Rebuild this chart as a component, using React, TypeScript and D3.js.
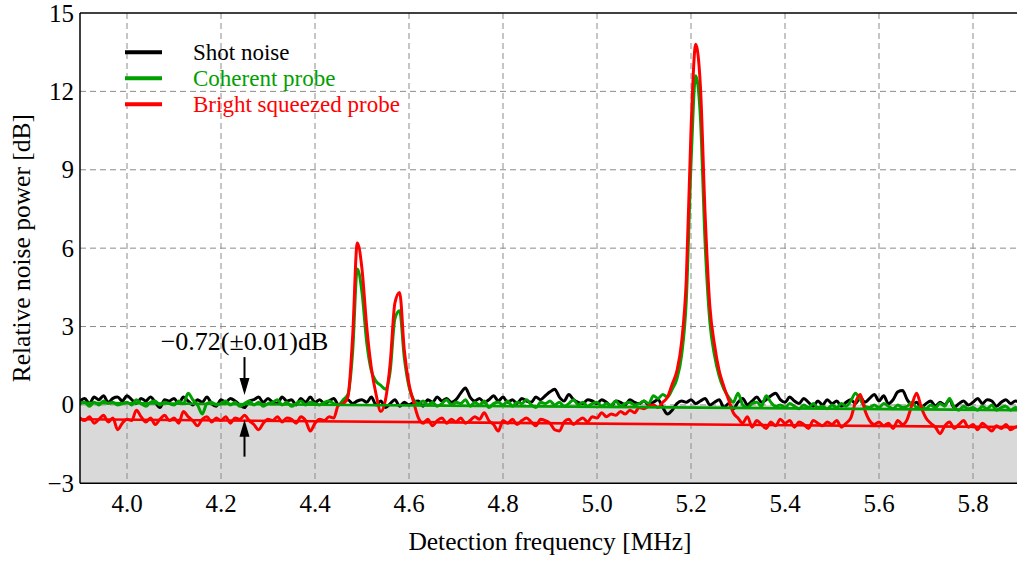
import React from "react";
import * as d3 from "d3";

// Frequency grid (MHz), 0.01 MHz steps from 3.90 to 5.90
const FREQ: number[] = d3.range(201).map((i) => +(3.9 + i * 0.01).toFixed(2));

const X_TICKS = [4.0, 4.2, 4.4, 4.6, 4.8, 5.0, 5.2, 5.4, 5.6, 5.8];
const Y_TICKS = [-3, 0, 3, 6, 9, 12, 15];

// Shot noise (black)
const SHOT = [
  0.15, 0.25, 0.05, 0.3, 0.2, 0.35, 0.1, 0.25, 0.3, 0.15,
  0.35, 0.2, 0.05, 0.25, 0.15, 0.3, 0.1, -0.1, 0.2, 0.15,
  0.25, 0.05, 0.3, 0.15, 0.0, 0.2, 0.1, 0.3, 0.05, -0.05,
  0.2, 0.1, 0.25, 0.15, 0.0, -0.1, 0.15, 0.2, 0.3, 0.1,
  0.25, 0.1, 0.05, 0.3, 0.15, 0.2, 0.0, 0.25, 0.1, 0.3,
  0.1, 0.2, 0.05, 0.15, 0.25, 0.0, 0.1, 0.2, 0.05, 0.15,
  0.2, 0.1, 0.3, 0.0, 0.15, -0.1, 0.05, 0.2, -0.05, 0.1,
  0.0, 0.1, 0.15, -0.05, 0.2, 0.1, 0.3, 0.15, 0.25, 0.1,
  0.2, 0.45, 0.65, 0.3, 0.15, 0.25, 0.1, 0.2, 0.35, 0.15,
  0.3, 0.1, 0.2, 0.05, 0.25, 0.15, 0.1, 0.3, 0.2, 0.35,
  0.5, 0.6, 0.3, 0.15, 0.4, 0.2, 0.1, 0.05, 0.2, 0.15,
  0.05, 0.2, 0.1, -0.05, 0.15, 0.1, 0.0, 0.2, 0.1, 0.05,
  0.15, 0.0, 0.1, 0.2, -0.1, -0.35, -0.2, 0.05, 0.15, 0.1,
  0.2, 0.05, 0.15, 0.25, 0.0, 0.1, 0.2, -0.1, 0.05, -0.15,
  0.1, 0.25, 0.0, 0.15, 0.3, 0.1, 0.2, 0.35, 0.45, 0.2,
  0.1, 0.3, 0.15, 0.05, 0.25, 0.1, -0.05, 0.15, 0.0, 0.2,
  0.05, 0.15, -0.05, 0.1, 0.2, 0.05, 0.3, 0.1, 0.25, 0.4,
  0.15, 0.35, 0.05, 0.2, 0.5, 0.55, 0.2, 0.0, 0.1, -0.1,
  0.05, 0.15, -0.05, 0.1, 0.0, 0.2, -0.1, 0.05, 0.15, 0.0,
  0.1, 0.25, 0.05, 0.2, 0.15, -0.05, 0.1, 0.2, 0.05, 0.15,
  0.1,
];

// Coherent probe (green)
const COHERENT = [
  0.05, 0.1, -0.05, 0.1, 0.0, 0.15, 0.05, 0.1, 0.0, 0.05,
  0.1, 0.0, 0.2, 0.05, -0.05, 0.1, 0.15, 0.0, 0.1, 0.05,
  0.0, 0.15, 0.05, 0.45, 0.2, 0.0, -0.35, 0.05, 0.1, 0.0,
  0.05, 0.15, 0.0, 0.1, -0.05, 0.05, 0.15, 0.0, 0.1, -0.05,
  0.05, 0.1, 0.2, 0.0, 0.1, -0.05, 0.05, 0.15, 0.0, 0.1,
  0.05, 0.0, 0.1, 0.15, 0.05, 0.0, 0.2, 0.4, 2.0, 5.2,
  4.3, 2.4, 1.3, 0.9, 0.75, 0.6, 1.3, 3.3, 3.6, 1.8,
  0.7, 0.2, 0.05, 0.15, 0.0, 0.1, -0.05, 0.05, 0.2, 0.0,
  0.1, 0.05, 0.2, -0.05, 0.1, 0.0, 0.15, -0.1, 0.05, 0.1,
  0.0, 0.15, -0.05, 0.1, 0.05, 0.2, 0.0, -0.1, 0.1, 0.05,
  0.15, 0.0, 0.1, -0.05, 0.05, 0.2, 0.0, 0.1, -0.05, 0.05,
  0.1, -0.05, 0.05, 0.0, 0.15, -0.05, 0.05, 0.1, 0.0, 0.05,
  0.15, 0.05, 0.35, 0.25, 0.4, 0.3, 0.6, 1.0, 1.9, 4.0,
  9.2, 12.6, 11.0, 6.2, 3.2, 1.9, 1.1, 0.6, 0.3, 0.1,
  0.45, 0.0, -0.1, 0.05, 0.1, -0.05, 0.35, 0.1, -0.05, 0.0,
  -0.1, 0.05, -0.05, -0.15, 0.0, -0.1, 0.05, -0.1, -0.05, -0.15,
  0.0, -0.1, 0.05, -0.05, 0.15, 0.45, 0.2, -0.05, -0.1, 0.0,
  -0.1, 0.05, -0.05, -0.15, 0.0, -0.1, -0.05, 0.1, -0.1, -0.05,
  -0.15, 0.0, -0.1, 0.05, -0.05, 0.25, -0.1, -0.2, -0.05, -0.15,
  -0.1, -0.2, -0.05, -0.15, 0.0, -0.2, -0.1, -0.05, -0.2, -0.1,
  -0.15,
];

// Bright squeezed probe (red)
const SQUEEZED = [
  -0.5, -0.6, -0.45, -0.7, -0.55, -0.4, -0.65, -0.5, -0.95, -0.7,
  -0.55, -0.6, -0.2, -0.45, -0.65, -0.5, -0.75, -0.55, -0.4, -0.6,
  -0.5, -0.7, -0.25, -0.45, -0.6, -0.8, -0.55, -0.45, -0.65, -0.5,
  -0.6, -0.45, -0.7, -0.5, -0.55, -0.4, -0.6, -0.75, -0.95, -0.7,
  -0.55, -0.6, -0.45, -0.65, -0.5, -0.55, -0.7, -0.45, -0.6, -1.0,
  -0.7, -0.55, -0.6, -0.45, -0.5, 0.0, 0.05, 0.3, 2.6, 6.2,
  5.2, 3.0, 1.4, 0.4, -0.25, 0.2, 1.6, 3.9, 4.3, 2.1,
  0.8, 0.1, -0.5, -0.7, -0.55, -0.8, -0.6, -0.5, -0.7, -0.55,
  -0.65, -0.5, -0.7, -0.6, -0.45, -0.55, -0.3, -0.6, -0.75, -1.0,
  -0.6, -0.7, -0.55, -0.75, -0.6, -0.5, -0.65, -0.8, -0.55, -0.6,
  -0.7, -0.95, -1.0, -0.65, -0.55, -0.75, -0.6, -0.5, -0.65, -0.45,
  -0.5, -0.3, -0.45, -0.35, -0.4, -0.25, -0.35, -0.2, -0.3, -0.1,
  -0.15, -0.05, 0.0, -0.1, 0.1, 0.3, 0.8, 1.3, 2.4, 4.8,
  10.5, 13.8, 12.2, 7.3, 3.8, 2.3, 1.3, 0.7, 0.2, -0.3,
  -0.5, -0.7, -0.45, -0.85, -0.6, -0.75, -0.9, -0.65, -0.8, -0.55,
  -0.7, -0.6, -0.85, -0.65, -0.75, -0.9, -0.6, -0.7, -0.8, -0.65,
  -0.75, -0.6, -0.85, -0.7, -0.5, 0.1, 0.4, -0.2, -0.6, -0.75,
  -0.65, -0.8, -0.7, -0.9, -0.6, -0.75, -0.55, 0.0, 0.45, -0.1,
  -0.5, -0.7, -0.85, -1.1, -0.8, -0.65, -0.9, -0.75, -0.6, -0.85,
  -0.75, -0.95, -0.7, -0.85, -1.0, -0.8, -0.9, -0.75, -0.95, -0.85,
  -0.8,
];

// Linear fits: [freq, dB] end points
const FIT_COHERENT: [number, number][] = [[3.9, 0.08], [5.9, -0.2]];
const FIT_SQUEEZED: [number, number][] = [[3.9, -0.55], [5.9, -0.85]];

const SERIES = [
  { name: "Shot noise", color: "#000000", values: SHOT },
  { name: "Coherent probe", color: "#00a000", values: COHERENT },
  { name: "Bright squeezed probe", color: "#ff0000", values: SQUEEZED },
];

const ANNOT_FREQ = 4.25;
const ANNOT_TEXT = "\u22120.72(\u00b10.01)dB";

const W = 1017;
const H = 561;
const FONT = "'Liberation Serif', 'Times New Roman', serif";

export default function App() {
  const x = d3.scaleLinear().domain([3.9, 5.9]).range([80, 1020]);
  const y = d3.scaleLinear().domain([-3, 15]).range([483.3, 13]);
  const [x0, x1] = x.range();
  const [yb, yt] = y.range();

  const line = d3
    .line<[number, number]>()
    .x((d) => x(d[0]))
    .y((d) => y(d[1]))
    .curve(d3.curveMonotoneX);
  const straight = d3
    .line<[number, number]>()
    .x((d) => x(d[0]))
    .y((d) => y(d[1]));

  const ax = x(ANNOT_FREQ);

  return (
    <svg
      width={W}
      height={H}
      style={{ position: "absolute", left: 0, top: 0, display: "block", background: "#fff" }}
      fontFamily={FONT}
    >
      <defs>
        <clipPath id="plot">
          <rect x={x0} y={yt} width={x1 - x0} height={yb - yt} />
        </clipPath>
      </defs>
      {/* shaded region below 0 dB */}
      <rect x={x0} y={y(0)} width={x1 - x0} height={y(-3) - y(0)} fill="#d9d9d9" />
      {/* grid */}
      <g stroke="#8c8c8c" strokeWidth={1} strokeDasharray="6,4">
        {X_TICKS.map((t) => (
          <line key={"gx" + t} x1={x(t)} x2={x(t)} y1={yt} y2={yb} />
        ))}
        {Y_TICKS.filter((t) => t > -3 && t < 15).map((t) => (
          <line key={"gy" + t} x1={x0} x2={x1} y1={y(t)} y2={y(t)} />
        ))}
      </g>
      {/* traces */}
      <g clipPath="url(#plot)" fill="none" strokeLinejoin="round" strokeLinecap="round">
        {SERIES.map((s) => (
          <path
            key={s.name}
            d={line(FREQ.map((f, i) => [f, s.values[i]] as [number, number])) || ""}
            stroke={s.color}
            strokeWidth={3}
          />
        ))}
        <path d={straight(FIT_COHERENT) || ""} stroke="#00a000" strokeWidth={2.6} />
        <path d={straight(FIT_SQUEEZED) || ""} stroke="#ff0000" strokeWidth={2.6} />
      </g>
      {/* axes frame */}
      <g stroke="#000" strokeWidth={1.5}>
        <line x1={x0} x2={x0} y1={yt} y2={yb} />
        <line x1={x0} x2={x1} y1={yb} y2={yb} />
        <line x1={x0} x2={x1} y1={yt} y2={yt} />
      </g>
      {/* tick labels */}
      <g fontSize={25} fill="#000">
        {X_TICKS.map((t) => (
          <text key={"tx" + t} x={x(t)} y={yb + 29} textAnchor="middle">
            {t.toFixed(1)}
          </text>
        ))}
        {Y_TICKS.map((t) => (
          <text key={"ty" + t} x={x0 - 6} y={y(t) + 8.5} textAnchor="end">
            {t < 0 ? "\u2212" + Math.abs(t) : String(t)}
          </text>
        ))}
      </g>
      {/* axis titles */}
      <text x={(x0 + x1) / 2} y={550} textAnchor="middle" fontSize={25.5} fill="#000">
        Detection frequency [MHz]
      </text>
      <text
        transform={`translate(30, ${(yt + yb) / 2}) rotate(-90)`}
        textAnchor="middle"
        fontSize={25.5}
        fill="#000"
      >
        Relative noise power [dB]
      </text>
      {/* annotation */}
      <text x={ax} y={y(2.12)} textAnchor="middle" fontSize={26} fill="#000">
        {ANNOT_TEXT}
      </text>
      <g fill="#000" stroke="#000">
        <line x1={ax} x2={ax} y1={y(1.83)} y2={y(0.9)} strokeWidth={2} />
        <path
          d={`M${ax - 5},${y(1.03)} L${ax + 5},${y(1.03)} L${ax},${y(0.38)} Z`}
          stroke="none"
        />
        <line x1={ax} x2={ax} y1={y(-1.98)} y2={y(-1.1)} strokeWidth={2} />
        <path
          d={`M${ax - 5},${y(-1.22)} L${ax + 5},${y(-1.22)} L${ax},${y(-0.57)} Z`}
          stroke="none"
        />
      </g>
      {/* legend */}
      <g>
        {SERIES.map((s, i) => (
          <g key={"lg" + s.name} transform={`translate(125, ${52.3 + i * 26})`}>
            <line x1={0} x2={37} y1={0} y2={0} stroke={s.color} strokeWidth={4} />
            <text x={68} y={8} fontSize={23} fill={s.color}>
              {s.name}
            </text>
          </g>
        ))}
      </g>
    </svg>
  );
}
